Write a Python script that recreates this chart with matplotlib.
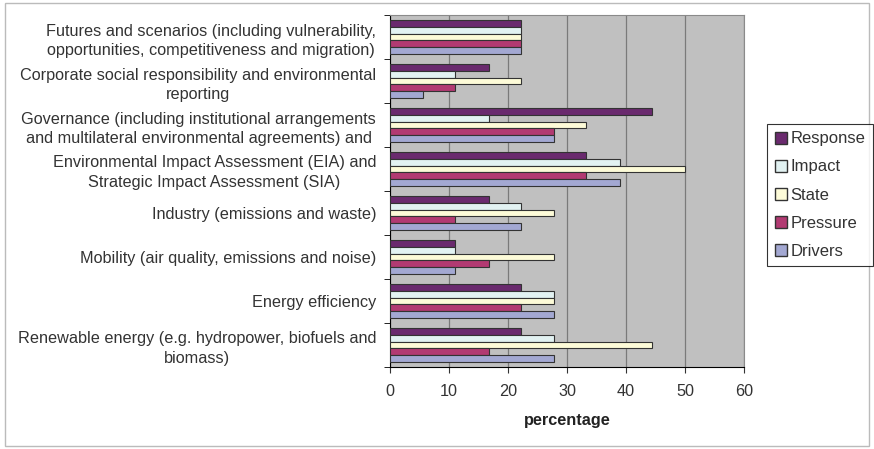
import numpy as np
import matplotlib
matplotlib.use("Agg")
import matplotlib.pyplot as plt
from matplotlib.patches import Rectangle, Patch

plt.rcParams["font.family"] = ["Liberation Sans", "DejaVu Sans"]

CATEGORIES = [
    "Futures and scenarios (including vulnerability,\nopportunities, competitiveness and migration)",
    "Corporate social responsibility and environmental\nreporting",
    "Governance (including institutional arrangements\nand multilateral environmental agreements) and",
    "Environmental Impact Assessment (EIA) and\nStrategic Impact Assessment (SIA)",
    "Industry (emissions and waste)",
    "Mobility (air quality, emissions and noise)",
    "Energy efficiency",
    "Renewable energy (e.g. hydropower, biofuels and\nbiomass)",
]

SERIES = ["Response", "Impact", "State", "Pressure", "Drivers"]
RESPONSE = [22.2, 16.7, 44.4, 33.3, 16.7, 11.1, 22.2, 22.2]
IMPACT = [22.2, 11.1, 16.7, 38.9, 22.2, 11.1, 27.8, 27.8]
STATE = [22.2, 22.2, 33.3, 50.0, 27.8, 27.8, 27.8, 44.4]
PRESSURE = [22.2, 11.1, 27.8, 33.3, 11.1, 16.7, 22.2, 16.7]
DRIVERS = [22.2, 5.6, 27.8, 38.9, 22.2, 11.1, 27.8, 27.8]

COLORS = ["#6a2a6e", "#e2f2f2", "#fdfbd8", "#b23a72", "#a3a8d2"]
FS = 11.7

fig = plt.figure(figsize=(8.74, 4.49), dpi=100)
ax = fig.add_axes([390 / 874, 1 - 367 / 449, (744 - 390) / 874, (367 - 15) / 449])
ax.set_facecolor("#c0c0c0")

values = [RESPONSE, IMPACT, STATE, PRESSURE, DRIVERS]
y = np.arange(len(CATEGORIES))
h = 0.155
for i, (name, vals, col) in enumerate(zip(SERIES, values, COLORS)):
    ax.barh(y + (i - 2) * h, vals, height=h, color=col, edgecolor="#333333",
            linewidth=0.8, label=name, zorder=3)

ax.set_xlim(0, 60)
ax.set_ylim(len(CATEGORIES) - 0.5, -0.5)
ax.set_xticks(range(0, 61, 10))
ax.xaxis.grid(True, color="#7a7a7a", linewidth=0.9, zorder=0)
ax.set_yticks(y)
ax.set_yticklabels(CATEGORIES, fontsize=FS, color="#333333")
for lbl in ax.get_yticklabels():
    lbl.set_multialignment("center")
    lbl.set_linespacing(1.4)
ax.set_yticks(np.arange(-0.5, len(CATEGORIES), 1), minor=True)
ax.tick_params(axis="y", which="major", length=0, pad=10)
ax.tick_params(axis="y", which="minor", length=4, direction="out")
ax.tick_params(axis="x", labelsize=FS, length=4, colors="#333333", pad=8)
ax.set_xlabel("percentage", fontsize=FS, fontweight="bold", labelpad=10, color="#222222")

for side in ["top", "right"]:
    ax.spines[side].set_color("#8a8a8a")
ax.spines["left"].set_color("#000000")
ax.spines["bottom"].set_color("#000000")

handles = [Patch(facecolor=c, edgecolor="#333333", label=s) for s, c in zip(SERIES, COLORS)]
leg = fig.legend(handles=handles, loc="upper left", bbox_to_anchor=(767 / 874, 1 - 124 / 449),
                 fontsize=12, frameon=True, fancybox=False, edgecolor="#000000",
                 handlelength=0.75, handleheight=0.75, handletextpad=0.2,
                 labelspacing=0.78, borderpad=0.45, borderaxespad=0)
leg.get_frame().set_linewidth(0.8)
for t in leg.get_texts():
    t.set_color("#333333")

fig.patches.append(Rectangle((5 / 874, 3 / 449), 864 / 874, 443 / 449, transform=fig.transFigure,
                             fill=False, edgecolor="#bbbbbb", linewidth=1))

fig.savefig("out.png", dpi=100)
